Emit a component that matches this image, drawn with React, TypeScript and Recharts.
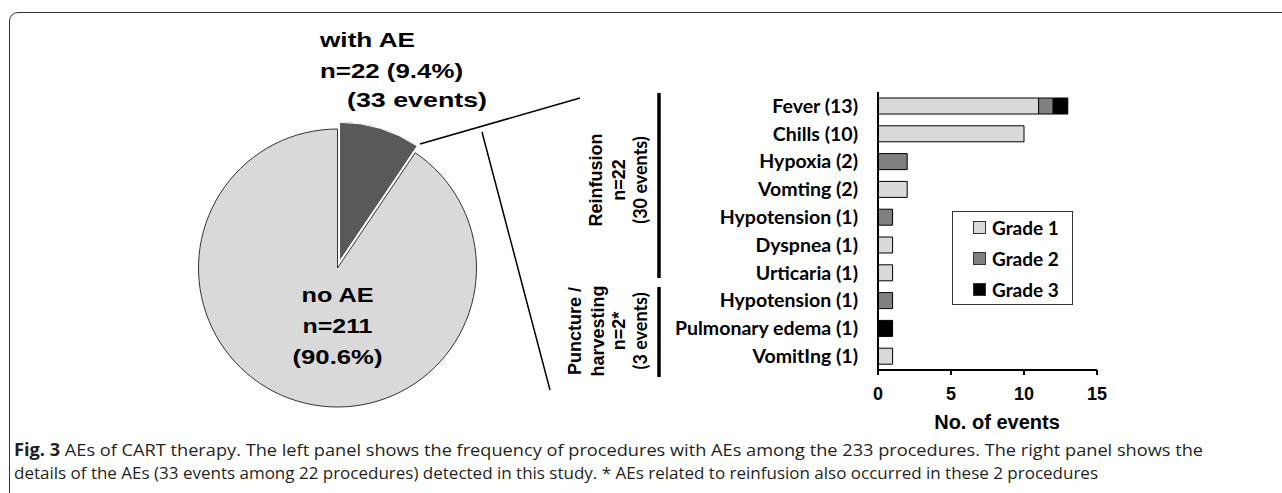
import React from "react";
import { PieChart, Pie, Cell, BarChart, Bar, XAxis, YAxis, Legend } from "recharts";

// left panel: procedures with / without AEs
const pieNames = ["with AE", "no AE"];
const pieValues = [22, 211];
const pieColors = ["#595959", "#d9d9d9"];
const totalEvents = 33;

// right panel: AE details by grade
const categories = [
  "Fever (13)",
  "Chills (10)",
  "Hypoxia (2)",
  "Vomting (2)",
  "Hypotension (1)",
  "Dyspnea (1)",
  "Urticaria (1)",
  "Hypotension (1)",
  "Pulmonary edema (1)",
  "VomitIng (1)",
];
const grade1 = [11, 10, 0, 2, 0, 1, 1, 0, 0, 1];
const grade2 = [1, 0, 2, 0, 1, 0, 0, 1, 0, 0];
const grade3 = [1, 0, 0, 0, 0, 0, 0, 0, 1, 0];
const gradeNames = ["Grade 1", "Grade 2", "Grade 3"];
const gradeColors = ["#d9d9d9", "#808080", "#000000"];
const xTicks = [0, 5, 10, 15];
const bandEdges = [0, 1, 2, 3, 4, 5, 6, 7, 8, 9, 10];

const pieData = pieNames.map((name, i) => ({ name, value: pieValues[i] }));
const barData = categories.map((name, i) => ({
  name,
  g1: grade1[i],
  g2: grade2[i],
  g3: grade3[i],
}));

const ARIAL = "'Liberation Sans', Arial, sans-serif";
const CALIBRI = "Lato, 'Open Sans', sans-serif";

const pieTotal = pieValues.reduce((a, b) => a + b, 0);
const pct = (v: number) => ((v / pieTotal) * 100).toFixed(1) + "%";

// explode the "with AE" slice along its bisector
const CX = 337.5;
const CY = 268;
const R = 139;
const midA = ((90 - ((pieValues[0] / pieTotal) * 360) / 2) * Math.PI) / 180;
const EXPLODE = 7;
const CX2 = CX + EXPLODE * Math.cos(midA);
const CY2 = CY - EXPLODE * Math.sin(midA);

const txt = {
  fontFamily: ARIAL,
  fontWeight: 700,
  fontSize: 21,
  fill: "#000",
} as const;

const renderPieLabel = (props: any) => {
  const { index } = props;
  if (index === 1) {
    return (
      <g>
        <text x={CX} y={CY + 34} textAnchor="middle" {...txt} textLength={72} lengthAdjust="spacingAndGlyphs">
          {pieNames[1]}
        </text>
        <text x={CX} y={CY + 65} textAnchor="middle" {...txt} textLength={70} lengthAdjust="spacingAndGlyphs">
          {`n=${pieValues[1]}`}
        </text>
        <text x={CX} y={CY + 96} textAnchor="middle" {...txt} textLength={90} lengthAdjust="spacingAndGlyphs">
          {`(${pct(pieValues[1])})`}
        </text>
      </g>
    );
  }
  return (
    <g>
      <text x={320} y={47} {...txt} textLength={95} lengthAdjust="spacingAndGlyphs">
        {pieNames[0]}
      </text>
      <text x={320} y={78} {...txt} textLength={143} lengthAdjust="spacingAndGlyphs">
        {`n=${pieValues[0]} (${pct(pieValues[0])})`}
      </text>
      <text x={347} y={107} {...txt} textLength={140} lengthAdjust="spacingAndGlyphs">
        {`(${totalEvents} events)`}
      </text>
    </g>
  );
};

const CatTick = (props: any) => {
  const { x, y, payload } = props;
  return (
    <text
      x={x}
      y={y}
      dy="0.35em"
      textAnchor="end"
      fontFamily={CALIBRI}
      fontWeight={700}
      fontSize={19.5}
      fill="#000"
    >
      {payload.value}
    </text>
  );
};

const renderLegend = (props: any) => {
  const payload = props.payload || [];
  return (
    <div
      style={{
        width: 121,
        height: 94,
        border: "1px solid #333",
        boxSizing: "border-box",
        background: "#fff",
        position: "relative",
      }}
    >
      {payload.map((p: any, i: number) => (
        <div
          key={i}
          style={{
            position: "absolute",
            left: 20,
            top: 5 + i * 31,
            height: 20,
            display: "flex",
            alignItems: "center",
          }}
        >
          <span
            style={{
              display: "inline-block",
              width: 11,
              height: 11,
              background: p.color,
              border: "1px solid #333",
            }}
          />
          <span
            style={{
              marginLeft: 6,
              fontFamily: CALIBRI,
              fontWeight: 700,
              fontSize: 19,
              color: "#000",
            }}
          >
            {p.value}
          </span>
        </div>
      ))}
    </div>
  );
};

const Rot = ({ x, y, children, font = ARIAL }: any) => (
  <text
    transform={`translate(${x},${y}) rotate(-90)`}
    textAnchor="middle"
    fontFamily={font}
    fontWeight={700}
    fontSize={18}
    fill="#000"
  >
    {children}
  </text>
);

export default function App() {
  return (
    <div
      style={{
        position: "absolute",
        left: 0,
        top: 0,
        width: 1282,
        height: 493,
        overflow: "hidden",
        background: "#fff",
      }}
    >
      <div
        style={{
          position: "absolute",
          left: 9,
          top: 12,
          width: 1400,
          height: 600,
          border: "1.5px solid #333",
          borderRadius: 9,
        }}
      />

      <div style={{ position: "absolute", left: 0, top: 0 }}>
        <PieChart width={660} height={493} margin={{ top: 0, right: 0, bottom: 0, left: 0 }}>
          <Pie
            data={pieData}
            dataKey="value"
            nameKey="name"
            cx={CX}
            cy={CY}
            outerRadius={R}
            startAngle={90}
            endAngle={-270}
            label={renderPieLabel}
            labelLine={false}
            isAnimationActive={false}
          >
            {pieData.map((d, i) => (
              <Cell
                key={d.name}
                fill={i === 1 ? pieColors[1] : "none"}
                stroke={i === 1 ? "#333" : "none"}
                strokeWidth={1}
              />
            ))}
          </Pie>
          <Pie
            data={pieData}
            dataKey="value"
            nameKey="name"
            cx={CX2}
            cy={CY2}
            outerRadius={R}
            startAngle={90}
            endAngle={-270}
            isAnimationActive={false}
          >
            {pieData.map((d, i) => (
              <Cell
                key={d.name}
                fill={i === 0 ? pieColors[0] : "none"}
                stroke={i === 0 ? "#fff" : "none"}
                strokeWidth={1}
              />
            ))}
          </Pie>
        </PieChart>
      </div>

      <div style={{ position: "absolute", left: 660, top: 80 }}>
        <BarChart
          width={460}
          height={370}
          data={barData}
          layout="vertical"
          margin={{ top: 12, right: 23, bottom: 0, left: 0 }}
          barCategoryGap={0}
        >
          <XAxis
            type="number"
            domain={[0, 15]}
            ticks={xTicks}
            height={80}
            allowDataOverflow
            axisLine={{ stroke: "#000", strokeWidth: 2 }}
            tickLine={{ stroke: "#000", strokeWidth: 2 }}
            tickSize={5}
            tickMargin={12}
            tick={{ fill: "#000", fontSize: 18, fontWeight: 700, fontFamily: ARIAL }}
          />
          <YAxis
            yAxisId="edges"
            type="number"
            domain={[0, 10]}
            ticks={bandEdges}
            mirror
            width={0}
            axisLine={false}
            tick={false}
            tickLine={{ stroke: "#000", strokeWidth: 1.5 }}
            tickSize={4}
          />
          <YAxis
            yAxisId="cat"
            type="category"
            dataKey="name"
            width={218}
            interval={0}
            axisLine={{ stroke: "#000", strokeWidth: 2 }}
            tickLine={false}
            tickSize={0}
            tickMargin={20}
            tick={(p: any) => <CatTick {...p} />}
          />
          <Legend
            layout="horizontal"
            verticalAlign="middle"
            align="center"
            content={renderLegend}
            wrapperStyle={{ left: 292, top: 131, width: 121, height: 94 }}
          />
          {["g1", "g2", "g3"].map((k, i) => (
            <Bar
              key={k}
              yAxisId="cat"
              dataKey={k}
              stackId="a"
              name={gradeNames[i]}
              fill={gradeColors[i]}
              stroke="#000"
              strokeWidth={1}
              barSize={16}
              isAnimationActive={false}
            />
          ))}
        </BarChart>
      </div>

      <svg
        width={1282}
        height={493}
        style={{ position: "absolute", left: 0, top: 0, pointerEvents: "none" }}
      >
        {/* connector lines from the exploded slice */}
        <line x1={420} y1={144} x2={580} y2={98} stroke="#000" strokeWidth={1.5} />
        <line x1={482} y1={132} x2={550} y2={390} stroke="#000" strokeWidth={1.5} />

        {/* group brackets */}
        <line x1={659} y1={93} x2={659} y2={278} stroke="#000" strokeWidth={3.5} />
        <line x1={659} y1={287} x2={659} y2={377} stroke="#000" strokeWidth={3.5} />

        <Rot x={602} y={180}>Reinfusion</Rot>
        <Rot x={625} y={180}>n=22</Rot>
        <Rot x={647} y={180} font={CALIBRI}>(30 events)</Rot>

        <Rot x={581} y={331}>Puncture /</Rot>
        <Rot x={604} y={331}>harvesting</Rot>
        <Rot x={625} y={331}>n=2*</Rot>
        <Rot x={647} y={331} font={CALIBRI}>(3 events)</Rot>

        <text x={997} y={429} textAnchor="middle" fontFamily={ARIAL} fontWeight={700} fontSize={20} fill="#000">
          No. of events
        </text>

        <text
          x={14}
          y={456}
          fontFamily="'Open Sans', sans-serif"
          fontSize={17}
          fill="#231f20"
          textLength={1189}
          lengthAdjust="spacingAndGlyphs"
        >
          <tspan fontWeight={700}>Fig. 3</tspan>
          {"  AEs of CART therapy. The left panel shows the frequency of procedures with AEs among the 233 procedures. The right panel shows the"}
        </text>
        <text
          x={14}
          y={479}
          fontFamily="'Open Sans', sans-serif"
          fontSize={17}
          fill="#231f20"
          textLength={1084}
          lengthAdjust="spacingAndGlyphs"
        >
          details of the AEs (33 events among 22 procedures) detected in this study. * AEs related to reinfusion also occurred in these 2 procedures
        </text>
      </svg>
    </div>
  );
}
